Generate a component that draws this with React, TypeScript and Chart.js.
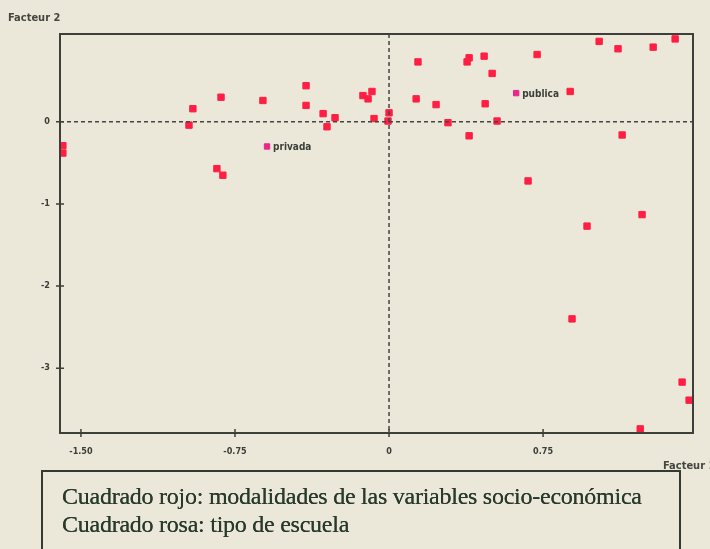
import React, { useEffect, useRef } from "react";
import { Chart, registerables } from "chart.js";
Chart.register(...registerables);

// Red squares: modalities of socio-economic variables
const redX = [-1.588, -1.588, -0.974, -0.955, -0.818, -0.838, -0.809, -0.614, -0.404, -0.404, -0.321, -0.302, -0.263, -0.127, -0.102, -0.083, -0.073, 0.0, -0.005, 0.141, 0.132, 0.229, 0.287, 0.38, 0.39, 0.39, 0.463, 0.502, 0.468, 0.526, 0.721, 0.882, 1.023, 1.115, 1.135, 1.286, 1.393, 0.677, 1.232, 0.964, 0.891, 1.427, 1.461, 1.223];
const redY = [-0.29, -0.38, -0.04, 0.16, 0.3, -0.57, -0.65, 0.26, 0.44, 0.2, 0.1, -0.06, 0.05, 0.32, 0.28, 0.37, 0.04, 0.11, 0.01, 0.73, 0.28, 0.21, -0.01, 0.73, 0.78, -0.17, 0.8, 0.59, 0.22, 0.01, 0.82, 0.37, 0.98, 0.89, -0.16, 0.91, 1.01, -0.72, -1.13, -1.27, -2.4, -3.17, -3.39, -3.74];

// Pink squares: school type
const pinkLabels = ["publica", "privada"];
const pinkX = [0.619, -0.594];
const pinkY = [0.35, -0.3];

const xTicks = [-1.5, -0.75, 0, 0.75];
const xTickLabels = ["-1.50", "-0.75", "0", "0.75"];
const yTicks = [0, -1, -2, -3];
const yTickLabels = ["0", "-1", "-2", "-3"];

const xTitle = "Facteur 1";
const yTitle = "Facteur 2";
const captionLines = [
  "Cuadrado rojo: modalidades de las variables socio-económica",
  "Cuadrado rosa: tipo de escuela",
];

const BG = "#ebe8da";
const INK = "#3a3f38";
const TICK_FONT = "'Liberation Sans Narrow', 'DejaVu Sans Condensed', 'Liberation Sans', sans-serif";

const framePlugin = {
  id: "frame",
  afterDatasetsDraw(chart: any) {
    const { ctx, chartArea: a, scales } = chart;
    const xs = scales.x;
    const ys = scales.y;
    ctx.save();
    // dashed zero lines
    ctx.strokeStyle = "#444";
    ctx.lineWidth = 1.5;
    ctx.setLineDash([4, 3]);
    const x0 = xs.getPixelForValue(0);
    const y0 = ys.getPixelForValue(0);
    ctx.beginPath();
    ctx.moveTo(a.left, y0);
    ctx.lineTo(a.right, y0);
    ctx.moveTo(x0, a.top);
    ctx.lineTo(x0, a.bottom);
    ctx.stroke();
    ctx.setLineDash([]);
    // frame
    ctx.strokeStyle = "#3c3f3a";
    ctx.lineWidth = 2;
    ctx.strokeRect(a.left, a.top, a.right - a.left, a.bottom - a.top);
    // tick crosses
    ctx.lineWidth = 1.5;
    ctx.beginPath();
    yTicks.forEach((v) => {
      const p = ys.getPixelForValue(v);
      ctx.moveTo(a.left - 4, p);
      ctx.lineTo(a.left + 4, p);
    });
    xTicks.forEach((v) => {
      const p = xs.getPixelForValue(v);
      ctx.moveTo(p, a.bottom - 4);
      ctx.lineTo(p, a.bottom + 4);
    });
    ctx.stroke();
    // point labels
    ctx.fillStyle = INK;
    ctx.font = "bold 10px " + TICK_FONT;
    ctx.textBaseline = "middle";
    ctx.textAlign = "left";
    pinkLabels.forEach((t, i) => {
      const px = xs.getPixelForValue(pinkX[i]);
      const py = ys.getPixelForValue(pinkY[i]);
      ctx.fillText(t, px + 6, py + 1);
    });
    // axis titles
    ctx.font = "bold 11px " + TICK_FONT;
    ctx.fillStyle = "#44463f";
    ctx.textBaseline = "middle";
    ctx.fillText(yTitle, 8, 18);
    ctx.fillText(xTitle, 663, 466);
    ctx.restore();
  },
};

export default function App() {
  const ref = useRef<HTMLCanvasElement>(null);
  useEffect(() => {
    if (!ref.current) return;
    const chart = new Chart(ref.current, {
      type: "scatter",
      data: {
        datasets: [
          {
            data: redX.map((x, i) => ({ x, y: redY[i] })),
            pointStyle: "rect",
            pointRadius: 4.5,
            backgroundColor: "#ff1f43",
            borderColor: "#ff1f43",
            borderWidth: 1,
          },
          {
            data: pinkX.map((x, i) => ({ x, y: pinkY[i] })),
            pointStyle: "rect",
            pointRadius: 3.8,
            backgroundColor: "#e8268c",
            borderColor: "#e8268c",
            borderWidth: 1,
          },
        ],
      },
      options: {
        responsive: false,
        animation: false,
        devicePixelRatio: 1,
        layout: { padding: { left: 0, top: 34, right: 17, bottom: 0 } },
        plugins: { legend: { display: false }, tooltip: { enabled: false } },
        scales: {
          x: {
            type: "linear",
            min: -1.602,
            max: 1.48,
            grid: { display: false },
            border: { display: false },
            afterFit: (s: any) => {
              s.height = 116;
            },
            afterBuildTicks: (s: any) => {
              s.ticks = xTicks.map((v) => ({ value: v }));
            },
            ticks: {
              padding: 5,
              autoSkip: false,
              maxRotation: 0,
              color: "#3a3d38",
              font: { family: TICK_FONT, size: 9, weight: "bold" },
              callback: (v: any) => {
                const i = xTicks.indexOf(Number(v));
                return i >= 0 ? xTickLabels[i] : "";
              },
            },
          },
          y: {
            type: "linear",
            min: -3.79,
            max: 1.07,
            grid: { display: false },
            border: { display: false },
            afterFit: (s: any) => {
              s.width = 60;
            },
            afterBuildTicks: (s: any) => {
              s.ticks = yTicks.map((v) => ({ value: v }));
            },
            ticks: {
              padding: 2,
              autoSkip: false,
              color: "#3a3d38",
              font: { family: TICK_FONT, size: 9, weight: "bold" },
              callback: (v: any) => {
                const i = yTicks.indexOf(Number(v));
                return i >= 0 ? yTickLabels[i] : "";
              },
            },
          },
        },
      },
      plugins: [framePlugin],
    } as any);
    return () => chart.destroy();
  }, []);

  return (
    <div
      style={{
        position: "fixed",
        left: 0,
        top: 0,
        width: 710,
        height: 549,
        background: BG,
        overflow: "hidden",
      }}
    >
      <canvas ref={ref} width={710} height={549} style={{ position: "absolute", left: 0, top: 0 }} />
      <div
        style={{
          position: "absolute",
          left: 41,
          top: 470,
          width: 640,
          height: 120,
          border: "2px solid #333a33",
          boxSizing: "border-box",
          paddingLeft: 19,
          paddingTop: 10,
          fontFamily: "'Liberation Serif', 'Times New Roman', serif",
          fontSize: 24,
          lineHeight: "28px",
          color: "#283a2c",
          letterSpacing: "-0.25px",
          textShadow: "0 0 0.6px #283a2c",
        }}
      >
        {captionLines.map((l, i) => (
          <div key={i}>{l}</div>
        ))}
      </div>
    </div>
  );
}
